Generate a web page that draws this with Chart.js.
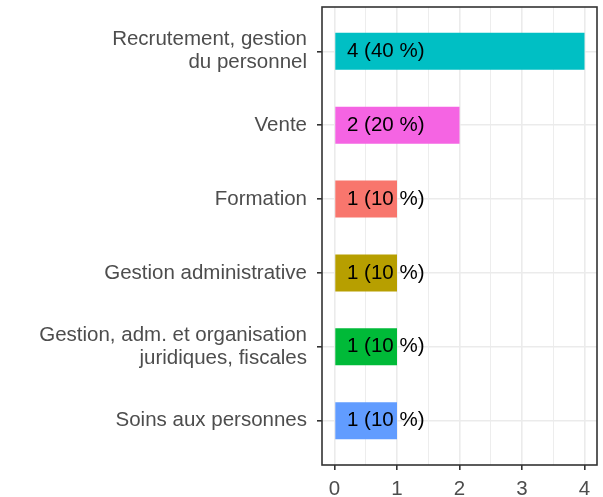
<!DOCTYPE html>
<html><head><meta charset="utf-8">
<script src="https://cdn.jsdelivr.net/npm/chart.js@4/dist/chart.umd.min.js"></script>
<style>html,body{margin:0;padding:0;background:#fff}#wrap{width:603px;height:497px}</style>
</head><body><div id="wrap"><canvas id="c" width="603" height="497"></canvas></div>
<script>
const categories = [["Recrutement, gestion","du personnel"],["Vente"],["Formation"],["Gestion administrative"],["Gestion, adm. et organisation","juridiques, fiscales"],["Soins aux personnes"]];
const counts = [4,2,1,1,1,1];
const barColors = ["#00BFC4","#F564E3","#F8766D","#B79F00","#00BA38","#619CFF"];
const xTicks = [0,1,2,3,4];
const total = counts.reduce((a,b)=>a+b,0);
const barLabels = counts.map(v => `${v} (${Math.round(v/total*100)} %)`);
const labelAt = 0.2;

Chart.defaults.font.family = "'Liberation Sans', Arial, sans-serif";

const borderPlugin = {
  id: 'panelBorder',
  afterDraw(chart) {
    const {ctx, chartArea: a} = chart;
    ctx.save();
    ctx.strokeStyle = '#333333';
    ctx.lineWidth = 1.6;
    ctx.strokeRect(a.left, a.top, a.right - a.left, a.bottom - a.top);
    ctx.restore();
  }
};
const labelPlugin = {
  id: 'barLabels',
  afterDatasetsDraw(chart) {
    const {ctx} = chart;
    const meta = chart.getDatasetMeta(0);
    const xs = chart.scales.x;
    ctx.save();
    ctx.font = "20.5px 'Liberation Sans', Arial, sans-serif";
    ctx.fillStyle = '#000000';
    ctx.textAlign = 'left';
    ctx.textBaseline = 'middle';
    meta.data.forEach((el, i) => {
      ctx.fillText(barLabels[i], xs.getPixelForValue(labelAt), el.y);
    });
    ctx.restore();
  }
};

const minorStep = 0.5;
new Chart(document.getElementById('c'), {
  type: 'bar',
  data: {
    datasets: [{
      data: counts.map((v, i) => ({x: v, y: i + 1})),
      backgroundColor: barColors,
      borderWidth: 0,
      barPercentage: 0.5,
      categoryPercentage: 1.0
    }]
  },
  options: {
    indexAxis: 'y',
    responsive: false,
    animation: false,
    devicePixelRatio: 1,
    layout: {padding: {top: 7, right: 6, left: 0, bottom: 0}},
    plugins: {legend: {display: false}, tooltip: {enabled: false}},
    scales: {
      x: {
        type: 'linear', position: 'bottom', min: -0.2, max: 4.2, offset: false,
        afterBuildTicks(s) {
          const t = [];
          for (let v = xTicks[0]; v <= xTicks[xTicks.length-1] + 1e-9; v += minorStep) t.push({value: v});
          s.ticks = t;
        },
        afterFit(s) { s.height = 32; s.paddingLeft = 0; s.paddingRight = 0; s.paddingTop = 0; s.paddingBottom = 0; },
        border: {display: false},
        grid: {
          offset: false,
          color: '#EBEBEB',
          lineWidth: c => (Number.isInteger(c.tick.value) ? 1.6 : 0.9),
          tickColor: c => (Number.isInteger(c.tick.value) ? '#333333' : 'rgba(0,0,0,0)'),
          tickWidth: 1.6,
          tickLength: 5
        },
        ticks: {
          autoSkip: false, maxRotation: 0, padding: 7,
          color: '#4D4D4D', font: {size: 20.5},
          callback: v => (xTicks.includes(v) ? String(v) : '')
        }
      },
      y: {
        type: 'linear', reverse: true, min: 0.4, max: categories.length + 0.6, offset: false,
        afterBuildTicks(s) { s.ticks = categories.map((_, i) => ({value: i + 1})); },
        afterFit(s) { s.width = 322; s.paddingLeft = 0; s.paddingRight = 0; s.paddingTop = 0; s.paddingBottom = 0; },
        border: {display: false},
        grid: {offset: false, color: '#EBEBEB', lineWidth: 1.6, tickColor: '#333333', tickWidth: 1.6, tickLength: 5},
        ticks: {
          autoSkip: false, padding: 10,
          color: '#4D4D4D', font: {size: 20.5, lineHeight: 1.12},
          callback: v => categories[Math.round(v) - 1]
        }
      }
    }
  },
  plugins: [borderPlugin, labelPlugin]
});
</script></body></html>
